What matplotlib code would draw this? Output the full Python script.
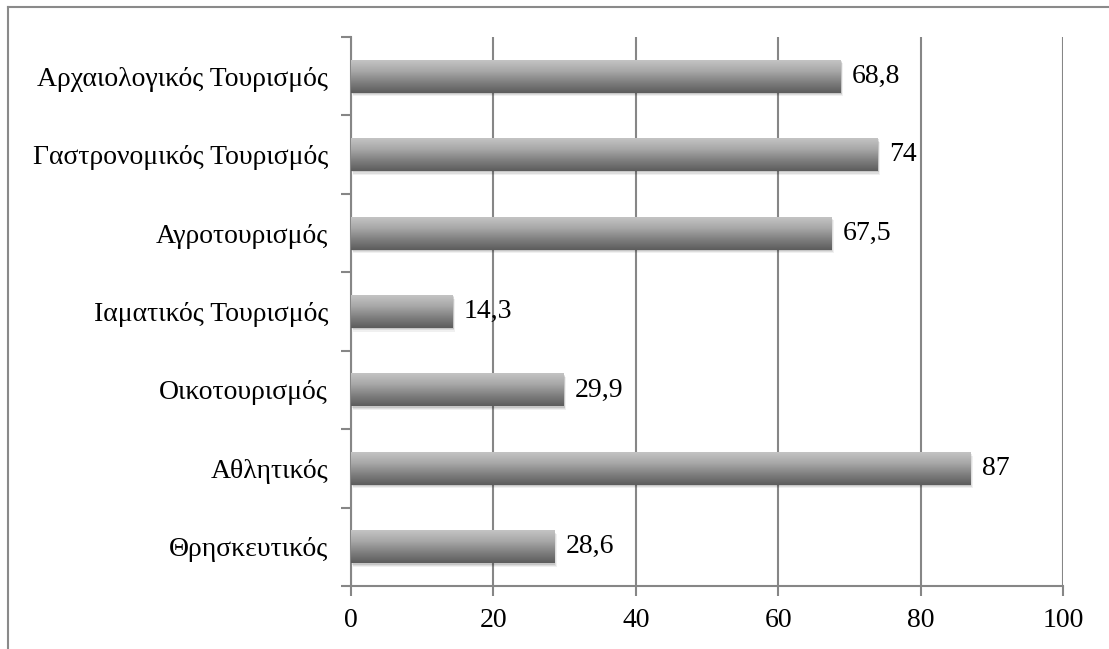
import matplotlib
matplotlib.use("Agg")
import matplotlib.pyplot as plt
import matplotlib.transforms as mtransforms
from matplotlib.patches import Rectangle
import numpy as np

# data (top to bottom as shown)
categories = ["Αρχαιολογικός Τουρισμός", "Γαστρονομικός Τουρισμός", "Αγροτουρισμός",
              "Ιαματικός Τουρισμός", "Οικοτουρισμός", "Αθλητικός", "Θρησκευτικός"]
values = [68.8, 74, 67.5, 14.3, 29.9, 87, 28.6]
value_labels = ["68,8", "74", "67,5", "14,3", "29,9", "87", "28,6"]
xticks = [0, 20, 40, 60, 80, 100]

plt.rcParams['font.family'] = ['Liberation Serif', 'DejaVu Serif']
grey = "#868686"
fs = 20

fig = plt.figure(figsize=(11.09, 6.49), dpi=100)
ax = fig.add_axes([0.3165, 0.097, 0.642, 0.846])

# outer frame (only top/left visible)
fig.add_artist(plt.Line2D([0.0072, 1.0], [0.989, 0.989], color="#8a8a8a", lw=1.5, transform=fig.transFigure))
fig.add_artist(plt.Line2D([0.0072, 0.0072], [0.0, 0.989], color="#8a8a8a", lw=1.5, transform=fig.transFigure))

n = len(categories)
ypos = np.arange(n)[::-1]
h = 0.42

# vertical gradient: light at top, dark at bottom
grad = np.linspace(0, 1, 256).reshape(-1, 1)
cmap = matplotlib.colors.LinearSegmentedColormap.from_list(
    "bar", ["#c4c4c4", "#a8a8a8", "#808080", "#5c5c5c"])

for y, v, lab in zip(ypos, values, value_labels):
    # soft shadow
    for k, a in [(3, 0.06), (2, 0.08), (1, 0.10)]:
        tr = mtransforms.offset_copy(ax.transData, fig=fig, x=k * 0.8, y=-k * 1.2, units="dots")
        ax.add_patch(Rectangle((0, y - h / 2), v, h, facecolor="black", alpha=a,
                               edgecolor="none", transform=tr, zorder=2))
    rect = Rectangle((0, y - h / 2), v, h, facecolor="none", edgecolor="none", zorder=3)
    ax.add_patch(rect)
    im = ax.imshow(grad, cmap=cmap, aspect="auto", extent=(0, v, y - h / 2, y + h / 2),
                   origin="upper", zorder=3, interpolation="bilinear")
    im.set_clip_path(rect)
    ax.annotate(lab, (v, y), xytext=(8, 0), textcoords="offset points",
                va="center", ha="left", fontsize=fs, zorder=4)

ax.set_xlim(0, 100)
ax.set_ylim(-0.5, n - 0.5)
ax.set_xticks(xticks)
ax.set_xticklabels([str(t) for t in xticks], fontsize=fs)
ax.set_yticks(ypos)
ax.set_yticklabels(categories, fontsize=fs)
ax.set_yticks(np.arange(-0.5, n, 1.0), minor=True)

ax.grid(axis="x", color=grey, lw=1.5, zorder=1)
ax.set_axisbelow(True)
for s in ["top", "right"]:
    ax.spines[s].set_visible(False)
for s in ["left", "bottom"]:
    ax.spines[s].set_color(grey)
    ax.spines[s].set_linewidth(1.5)

ax.tick_params(axis="y", which="major", length=0, pad=16.5)
ax.tick_params(axis="y", which="minor", length=7, width=1.5, color=grey)
ax.tick_params(axis="x", which="major", length=7, width=1.5, color=grey, pad=9)

fig.savefig("out.png", dpi=100)
